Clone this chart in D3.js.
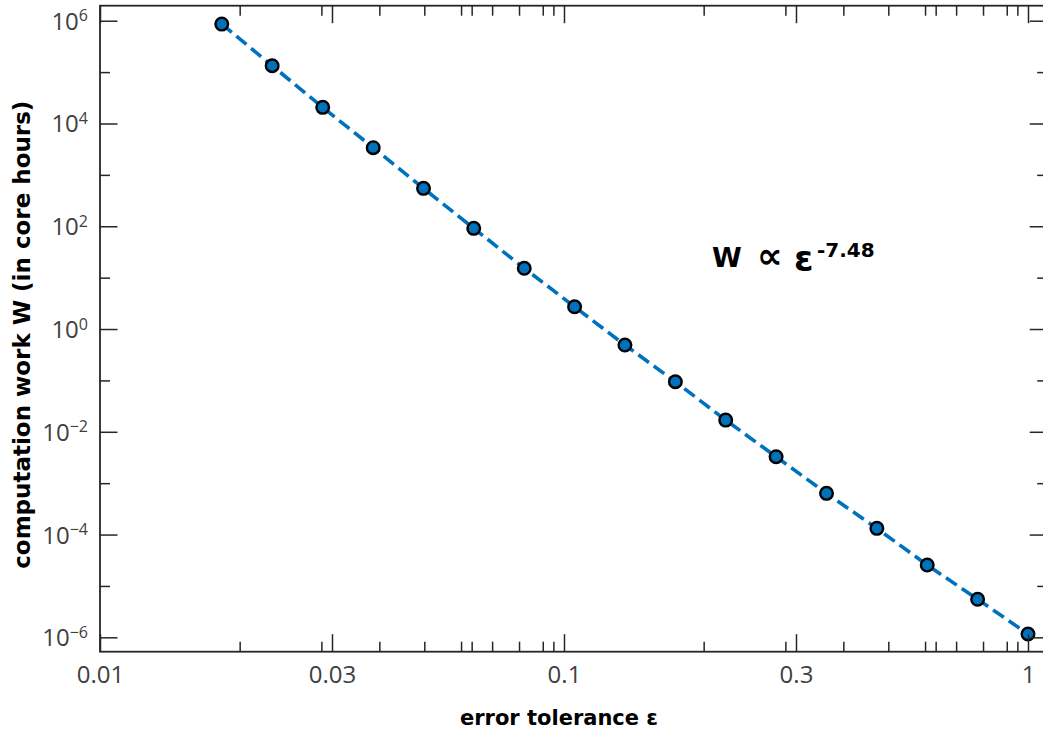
<!DOCTYPE html>
<html>
<head>
<meta charset="utf-8">
<script src="https://cdn.jsdelivr.net/npm/d3@7"></script>
<style>
  html, body { margin: 0; padding: 0; background: #fff; }
  svg { display: block; font-family: "Open Sans", "Noto Sans", sans-serif; }
  .title { font-family: "DejaVu Sans", sans-serif; font-weight: bold; }
</style>
</head>
<body>
<svg id="chart" width="1043" height="733"></svg>
<script>
// Error tolerance (x) and computation work in core hours (y)
const epsilon = [0.0183, 0.0235, 0.0302, 0.0388, 0.0498, 0.0639, 0.0821, 0.1054, 0.1353,
                 0.1738, 0.2231, 0.2865, 0.3679, 0.4724, 0.6065, 0.7788, 1.0];
const work = [8.6e5, 1.33e5, 2.06e4, 3.38e3, 547, 91, 15.2, 2.71, 0.488,
              0.0942, 0.0169, 3.27e-3, 6.34e-4, 1.32e-4, 2.55e-5, 5.5e-6, 1.16e-6];

// Axis ticks
const xMajorTicks = [0.01, 0.0316228, 0.1, 0.316228, 1];
const xTickLabels = ["0.01", "0.03", "0.1", "0.3", "1"];
const yMajorExponents = [-6, -4, -2, 0, 2, 4, 6];
const yMinorExponents = [-5, -3, -1, 1, 3, 5];

const fitExponent = "-7.48";

const svg = d3.select("#chart");
const plotLeft = 100, plotRight = 1047.2, plotTop = 5.7, plotBottom = 651.7;

const x = d3.scaleLog().domain([0.01, 1.1]).range([plotLeft, plotRight]);
const y = d3.scaleLog().domain([5.25e-7, 1.96e6]).range([plotBottom, plotTop]);

// minor x ticks: 2..9 per decade plus 2*sqrt(10), 3*sqrt(10)
const xMinorTicks = [];
[0.01, 0.1].forEach(d => {
  for (let m = 2; m <= 9; m++) xMinorTicks.push(m * d);
  xMinorTicks.push(2 * Math.sqrt(10) * d, 3 * Math.sqrt(10) * d);
});

const axisColor = "#262626";
const majorLen = 17.5, minorLen = 10;

const g = svg.append("g");

// data line (dashed) and markers
const line = d3.line().x((d, i) => x(epsilon[i])).y(d => y(d));
g.append("path")
  .datum(work)
  .attr("d", line)
  .attr("fill", "none")
  .attr("stroke", "#0072BD")
  .attr("stroke-width", 3.6)
  .attr("stroke-dasharray", "13,6");

g.selectAll("circle.pt")
  .data(work)
  .join("circle")
  .attr("class", "pt")
  .attr("cx", (d, i) => x(epsilon[i]))
  .attr("cy", d => y(d))
  .attr("r", 6.3)
  .attr("fill", "#0072BD")
  .attr("stroke", "#000")
  .attr("stroke-width", 2.4);

// Axes with inward ticks on all four sides
function styleAxis(sel) {
  sel.selectAll(".domain").remove();
  sel.selectAll(".tick line").attr("stroke", axisColor).attr("stroke-width", 1.5);
}

const xBottomMajor = d3.axisBottom(x).tickValues(xMajorTicks)
  .tickSizeInner(-majorLen).tickSizeOuter(0).tickPadding(14)
  .tickFormat((d, i) => xTickLabels[i]);
const xBottomMinor = d3.axisBottom(x).tickValues(xMinorTicks)
  .tickSizeInner(-minorLen).tickSizeOuter(0).tickFormat("");
const xTopMajor = d3.axisTop(x).tickValues(xMajorTicks)
  .tickSizeInner(-majorLen).tickSizeOuter(0).tickFormat("");
const xTopMinor = d3.axisTop(x).tickValues(xMinorTicks)
  .tickSizeInner(-minorLen).tickSizeOuter(0).tickFormat("");

const yMajor = yMajorExponents.map(e => Math.pow(10, e));
const yMinor = yMinorExponents.map(e => Math.pow(10, e));
const yLeftMajor = d3.axisLeft(y).tickValues(yMajor)
  .tickSizeInner(-majorLen).tickSizeOuter(0).tickFormat("");
const yLeftMinor = d3.axisLeft(y).tickValues(yMinor)
  .tickSizeInner(-minorLen).tickSizeOuter(0).tickFormat("");
const yRightMajor = d3.axisRight(y).tickValues(yMajor)
  .tickSizeInner(-majorLen).tickSizeOuter(0).tickFormat("");
const yRightMinor = d3.axisRight(y).tickValues(yMinor)
  .tickSizeInner(-minorLen).tickSizeOuter(0).tickFormat("");

const gxb = svg.append("g").attr("transform", `translate(0,${plotBottom})`).call(xBottomMajor).call(styleAxis);
gxb.selectAll(".tick text")
  .attr("fill", "#404040")
  .attr("font-size", 24)
  .attr("font-family", "'Open Sans', sans-serif");
svg.append("g").attr("transform", `translate(0,${plotBottom})`).call(xBottomMinor).call(styleAxis);
svg.append("g").attr("transform", `translate(0,${plotTop})`).call(xTopMajor).call(styleAxis);
svg.append("g").attr("transform", `translate(0,${plotTop})`).call(xTopMinor).call(styleAxis);
svg.append("g").attr("transform", `translate(${plotLeft},0)`).call(yLeftMajor).call(styleAxis);
svg.append("g").attr("transform", `translate(${plotLeft},0)`).call(yLeftMinor).call(styleAxis);
svg.append("g").attr("transform", `translate(${plotRight},0)`).call(yRightMajor).call(styleAxis);
svg.append("g").attr("transform", `translate(${plotRight},0)`).call(yRightMinor).call(styleAxis);

// axis box
svg.append("rect")
  .attr("x", plotLeft).attr("y", plotTop)
  .attr("width", plotRight - plotLeft).attr("height", plotBottom - plotTop)
  .attr("fill", "none").attr("stroke", axisColor).attr("stroke-width", 1.8);

// y tick labels as powers of ten
const yLabels = svg.append("g");
yMajorExponents.forEach(e => {
  const t = yLabels.append("text")
    .attr("x", 88)
    .attr("y", y(Math.pow(10, e)) + 9)
    .attr("text-anchor", "end")
    .attr("fill", "#404040")
    .attr("font-size", 24);
  t.append("tspan").text("10");
  t.append("tspan")
    .attr("dy", -8.5)
    .attr("font-size", 16)
    .text(e < 0 ? "\u2212" + Math.abs(e) : String(e));
});

// axis titles
svg.append("text")
  .attr("class", "title")
  .attr("x", 559).attr("y", 725)
  .attr("text-anchor", "middle")
  .attr("font-size", 21)
  .attr("fill", "#000")
  .text("error tolerance ε");

svg.append("text")
  .attr("class", "title")
  .attr("transform", `translate(30,${(plotTop + plotBottom) / 2 + 6}) rotate(-90)`)
  .attr("text-anchor", "middle")
  .attr("font-size", 23)
  .attr("fill", "#000")
  .text("computation work W (in core hours)");

// power-law annotation
const ann = svg.append("text")
  .attr("class", "title")
  .attr("y", 267)
  .attr("font-size", 27)
  .attr("fill", "#000");
ann.append("tspan").attr("x", 712).text("W");
ann.append("tspan").attr("x", 757).attr("dy", 1).attr("font-size", 36).text("\u221D");
ann.append("tspan").attr("x", 794).attr("dy", 3).attr("font-size", 35).text("\u03B5");
ann.append("tspan").attr("x", 817).attr("dy", -14).attr("font-size", 20).text(fitExponent);
</script>
</body>
</html>
